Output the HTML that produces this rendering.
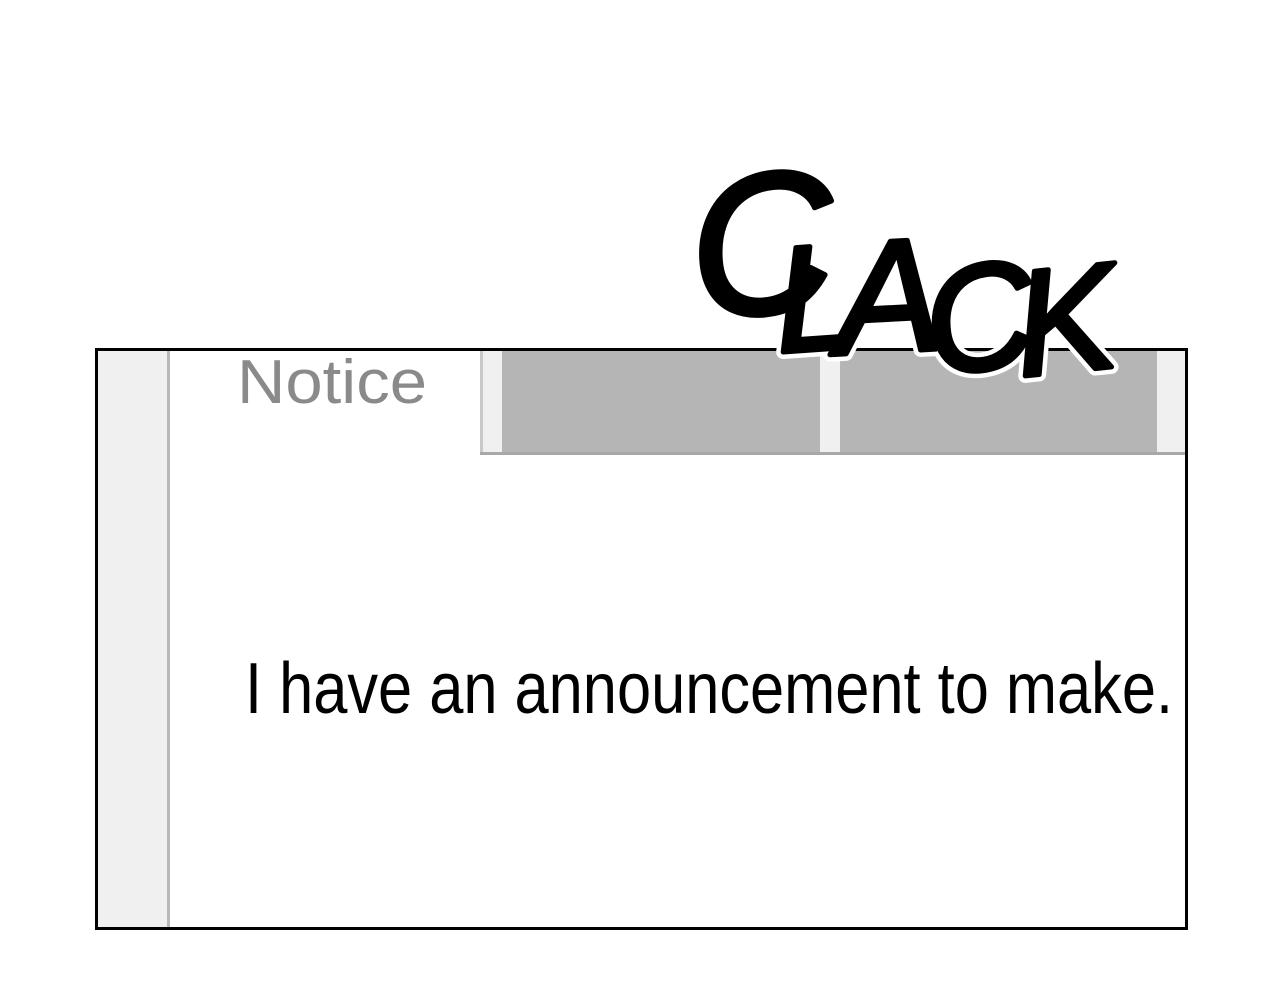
<!DOCTYPE html>
<html><head><meta charset="utf-8"><style>html,body{margin:0;padding:0;background:#fff}svg{display:block}</style></head>
<body>
<svg width="1280" height="1000" viewBox="0 0 1280 1000" xmlns="http://www.w3.org/2000/svg">
<rect x="0" y="0" width="1280" height="1000" fill="#fff"/>
<rect x="96.5" y="349.5" width="1090" height="579" fill="#fff" stroke="#000" stroke-width="3"/>
<rect x="98" y="351" width="70" height="576" fill="#f0f0f0"/>
<rect x="167" y="351" width="3" height="576" fill="#b8b8b8"/>
<rect x="480" y="351" width="705" height="104" fill="#f0f0f0"/>
<rect x="480" y="351" width="3" height="104" fill="#c8c8c8"/>
<rect x="502" y="351" width="318" height="101" fill="#b5b5b5"/>
<rect x="840" y="351" width="317" height="101" fill="#b5b5b5"/>
<rect x="480" y="452" width="705" height="3" fill="#a8a8a8"/>
<text x="237" y="403" font-family="Liberation Sans, sans-serif" font-size="62" fill="#8a8a8a" textLength="190" lengthAdjust="spacingAndGlyphs">Notice</text>
<text x="245" y="713" font-family="Liberation Sans, sans-serif" font-size="72" fill="#000" textLength="928" lengthAdjust="spacingAndGlyphs">I have an announcement to make.</text>
<g font-family="Liberation Sans, sans-serif" font-style="italic" fill="#000" stroke="#fff" stroke-width="14" paint-order="stroke" stroke-linejoin="round">
<text x="690" y="315" font-size="200" transform="rotate(-5 740 250)">C</text>
<text x="775" y="350" font-size="150" transform="rotate(-4 810 300)">L</text>
<text x="835" y="352" font-size="160" transform="rotate(-3 880 300)">A</text>
<text x="925" y="372" font-size="150" transform="rotate(-8 960 320)">C</text>
<text x="1015" y="372" font-size="150" transform="rotate(-6 1060 320)">K</text>
</g>
<g font-family="Liberation Sans, sans-serif" font-style="italic" fill="#000" stroke="#000" stroke-width="5" stroke-linejoin="round">
<text x="690" y="315" font-size="200" transform="rotate(-5 740 250)">C</text>
<text x="775" y="350" font-size="150" transform="rotate(-4 810 300)">L</text>
<text x="835" y="352" font-size="160" transform="rotate(-3 880 300)">A</text>
<text x="925" y="372" font-size="150" transform="rotate(-8 960 320)">C</text>
<text x="1015" y="372" font-size="150" transform="rotate(-6 1060 320)">K</text>
</g>
</svg>
</body></html>
